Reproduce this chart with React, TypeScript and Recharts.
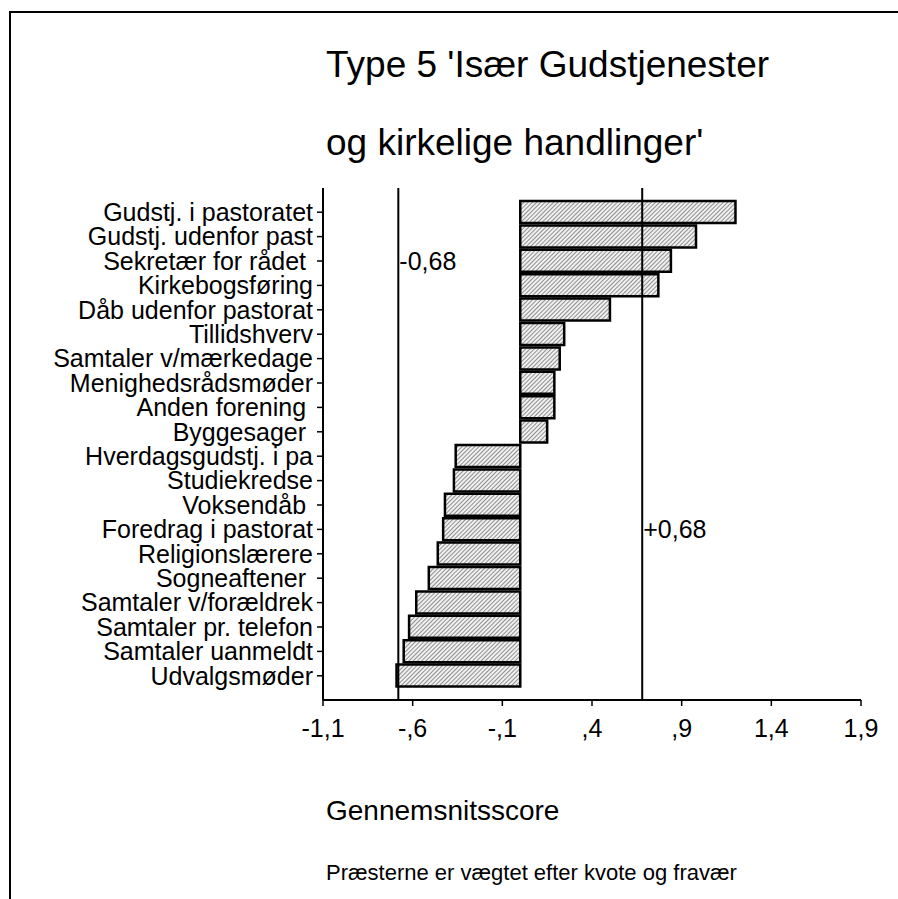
import React from 'react';
import { BarChart, Bar, XAxis, YAxis, ReferenceLine, ReferenceDot } from 'recharts';

const FONT = '"Liberation Sans", Arial, Helvetica, sans-serif';

const categories = [
  'Gudstj. i pastoratet',
  'Gudstj. udenfor past',
  'Sekretær for rådet\u00a0',
  'Kirkebogsføring',
  'Dåb udenfor pastorat',
  'Tillidshverv',
  'Samtaler v/mærkedage',
  'Menighedsrådsmøder',
  'Anden forening\u00a0',
  'Byggesager\u00a0',
  'Hverdagsgudstj. i pa',
  'Studiekredse',
  'Voksendåb\u00a0',
  'Foredrag i pastorat',
  'Religionslærere',
  'Sogneaftener\u00a0',
  'Samtaler v/forældrek',
  'Samtaler pr. telefon',
  'Samtaler uanmeldt',
  'Udvalgsmøder',
];

const values = [
  1.2, 0.98, 0.84, 0.77, 0.5, 0.245, 0.22, 0.19, 0.19, 0.15,
  -0.36, -0.37, -0.42, -0.43, -0.46, -0.51, -0.58, -0.62, -0.65, -0.69,
];

const xTicks = [-1.1, -0.6, -0.1, 0.4, 0.9, 1.4, 1.9];
const refValues = [-0.68, 0.68];
const refLabels = ['-0,68', '+0,68'];
const refLabelRows = [categories[2], categories[13]];

const titleLines = ["Type 5 'Især Gudstjenester", "og kirkelige handlinger'"];
const axisTitle = 'Gennemsnitsscore';
const footnote = 'Præsterne er vægtet efter kvote og fravær';

const data = categories.map((name, i) => ({ name, value: values[i] }));

const fmt = (v: number) => {
  let s = v.toFixed(1).replace('.', ',');
  s = s.replace(/^(-?)0,/, '$1,');
  return s;
};

const RefLabel = (text: string) => (props: any) => {
  const vb = props.viewBox || {};
  const x = (vb.x ?? 0) + (vb.width ?? 0) / 2;
  const y = (vb.y ?? 0) + (vb.height ?? 0) / 2;
  return (
    <text x={x + 1} y={y} dy="0.36em" fontSize={25} fontFamily={FONT} fill="#000" textAnchor="start">
      {text}
    </text>
  );
};

export default function App() {
  return (
    <div style={{ position: 'absolute', left: 0, top: 0, width: 898, height: 899, background: '#fff', overflow: 'hidden' }}>
      <svg width={0} height={0} style={{ position: 'absolute' }}>
        <defs>
          <pattern id="hatch" patternUnits="userSpaceOnUse" width={3} height={3} patternTransform="rotate(45)">
            <rect x={0} y={0} width={3} height={3} fill="#f0f0f0" />
            <line x1={0.5} y1={0} x2={0.5} y2={3} stroke="#909090" strokeWidth={1} />
          </pattern>
        </defs>
      </svg>
      <BarChart
        layout="vertical"
        width={898}
        height={899}
        data={data}
        margin={{ top: 188, right: 37, bottom: 139, left: 0 }}
        barCategoryGap={1}
      >
        <XAxis
          type="number"
          domain={[-1.1, 1.9]}
          ticks={xTicks}
          interval={0}
          allowDataOverflow
          height={60}
          tickFormatter={fmt}
          axisLine={{ stroke: '#000', strokeWidth: 2 }}
          tickLine={{ stroke: '#000', strokeWidth: 1.5 }}
          tickSize={6}
          tickMargin={13}
          tick={{ fill: '#000', fontSize: 25, fontFamily: FONT }}
        />
        <YAxis
          type="category"
          dataKey="name"
          width={323}
          interval={0}
          padding={{ top: 12, bottom: 12 }}
          axisLine={{ stroke: '#000', strokeWidth: 2 }}
          tickLine={{ stroke: '#000', strokeWidth: 1.5 }}
          tickSize={6}
          tickMargin={4}
          tick={{ fill: '#000', fontSize: 25, fontFamily: FONT }}
        />
        <Bar dataKey="value" fill="url(#hatch)" stroke="#000" strokeWidth={2.5} isAnimationActive={false} />
        {refValues.map((v) => (
          <ReferenceLine key={'l' + v} x={v} stroke="#000" strokeWidth={2} />
        ))}
        {refValues.map((v, i) => (
          <ReferenceDot
            key={'d' + v}
            x={v}
            y={refLabelRows[i]}
            r={0}
            fill="none"
            stroke="none"
            ifOverflow="visible"
            label={{ content: RefLabel(refLabels[i]) } as any}
          />
        ))}
      </BarChart>
      <svg width={898} height={899} style={{ position: 'absolute', left: 0, top: 0, pointerEvents: 'none' }}>
        <line x1={10} y1={12} x2={898} y2={12} stroke="#000" strokeWidth={2} />
        <line x1={10} y1={11} x2={10} y2={899} stroke="#000" strokeWidth={2} />
        <text x={326} y={77} fontSize={37} fontFamily={FONT} fill="#000">{titleLines[0]}</text>
        <text x={326} y={155} fontSize={37} fontFamily={FONT} fill="#000">{titleLines[1]}</text>
        <text x={326} y={820} fontSize={28} fontFamily={FONT} fill="#000">{axisTitle}</text>
        <text x={326} y={880} fontSize={22} fontFamily={FONT} fill="#000">{footnote}</text>
      </svg>
    </div>
  );
}
